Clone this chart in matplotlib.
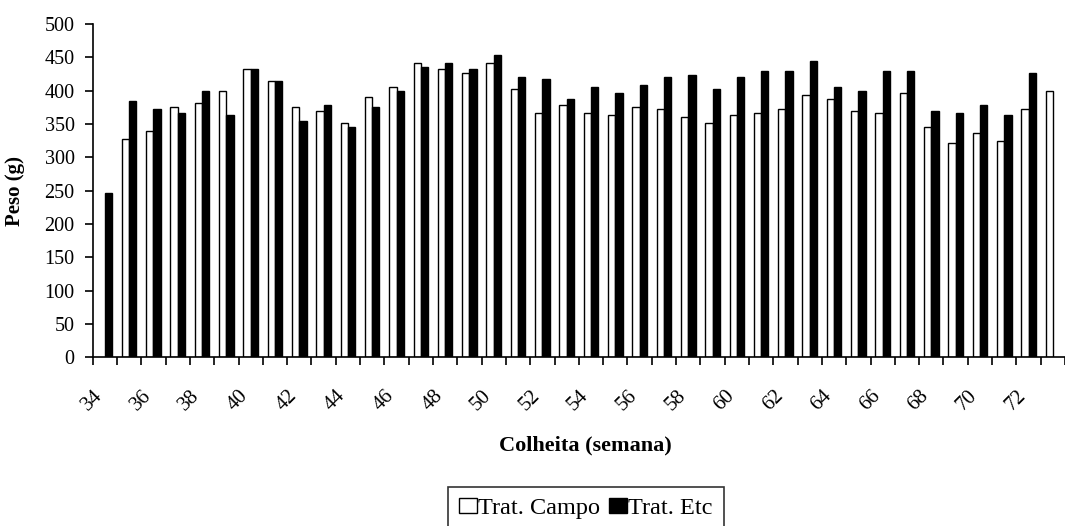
import numpy as np
import matplotlib.pyplot as plt
from matplotlib.transforms import ScaledTranslation

# Semanas de colheita e peso médio dos frutos (g)
semanas = list(range(34, 74))
trat_campo = [np.nan, 327, 339, 375, 381, 400, 432, 414, 375, 369,
              351, 390, 405, 441, 432, 426, 441, 402, 366, 378,
              366, 363, 375, 372, 360, 351, 363, 366, 372, 393,
              387, 369, 366, 396, 345, 321, 336, 324, 372, 399]
trat_etc = [246, 385, 373, 366, 400, 363, 432, 415, 355, 378,
            346, 375, 400, 436, 442, 432, 454, 420, 417, 387,
            405, 396, 408, 420, 423, 402, 420, 429, 429, 444,
            405, 399, 429, 429, 369, 366, 378, 363, 426, np.nan]
rotulos = [str(s) for s in semanas[:-1:2]]

plt.rcParams["font.family"] = ["Liberation Serif", "DejaVu Serif"]

fig = plt.figure(figsize=(10.65, 5.26), dpi=100)
ax = fig.add_axes([0.087, 0.3207, 0.913, 0.6337])

x = np.arange(len(semanas))
largura = 0.30
b1 = ax.bar(x - largura / 2, trat_campo, largura, color="white",
            edgecolor="black", linewidth=1.0, label="Trat. Campo")
b2 = ax.bar(x + largura / 2, trat_etc, largura, color="black",
            edgecolor="black", linewidth=1.0, label="Trat. Etc")

# eixo cortado à direita, como no gráfico original
ax.set_xlim(-0.5, 38.98)
ax.set_ylim(0, 500)
ax.set_yticks(range(0, 501, 50))

ax.set_xticks(x[:-1:2])
ax.set_xticklabels(rotulos, rotation=45, ha="right", rotation_mode="anchor")
ax.set_xticks(np.arange(-0.5, len(semanas), 1.0), minor=True)
ax.tick_params(axis="x", which="major", length=0, pad=21, labelsize=15)
ax.tick_params(axis="x", which="minor", length=6, width=1.2, direction="out")
ax.tick_params(axis="y", length=6, width=1.2, pad=7, labelsize=14.5)

desloc = ScaledTranslation(-12 / 100, 0, fig.dpi_scale_trans)
for rot in ax.get_xticklabels():
    rot.set_transform(rot.get_transform() + desloc)

for lado in ["top", "right"]:
    ax.spines[lado].set_visible(False)
for lado in ["left", "bottom"]:
    ax.spines[lado].set_linewidth(1.2)

ax.set_ylabel("Peso (g)", fontsize=15, fontweight="bold")
ax.yaxis.set_label_coords(-0.07, 0.5)

fig.text(585 / 1065, 1 - 445 / 526, "Colheita (semana)", ha="center",
         va="center", fontsize=16, fontweight="bold")

leg = fig.legend(handles=[b1, b2], loc="upper center",
                 bbox_to_anchor=(586 / 1065, 1 - 487 / 526), ncol=2,
                 fontsize=17.5, frameon=True, fancybox=False,
                 handlelength=0.75, handleheight=0.6, handletextpad=0.05,
                 columnspacing=0.35, borderpad=0.45, borderaxespad=0)
leg.get_frame().set_edgecolor("black")
leg.get_frame().set_linewidth(1.2)

fig.savefig("out.png", dpi=100)
